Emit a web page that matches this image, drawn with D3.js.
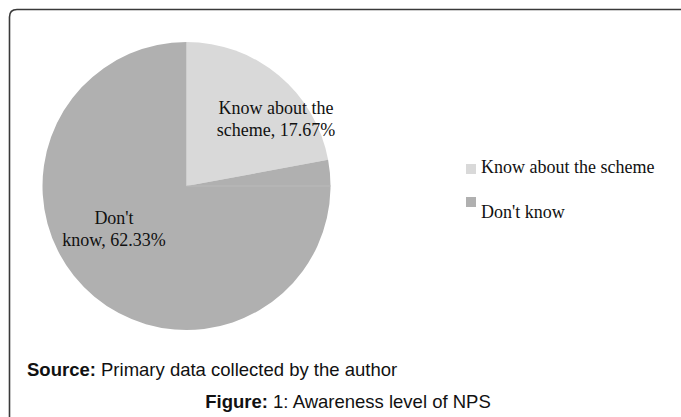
<!DOCTYPE html>
<html>
<head>
<meta charset="utf-8">
<script src="https://cdn.jsdelivr.net/npm/d3@7"></script>
<style>
  body { margin: 0; background: #fff; }
</style>
</head>
<body>
<div id="chart"></div>
<script>
// data
const categories = ["Know about the scheme", "Don't know"];
const values = [17.67, 62.33];
const labelLines = [["Know about the", "scheme, 17.67%"], ["Don't", "know, 62.33%"]];
const colors = ["#d9d9d9", "#b0b0b0"];

const width = 681, height = 417;
const cx = 186.5, cy = 186, radius = 144;

const svg = d3.select("#chart")
    .append("svg")
    .attr("width", width)
    .attr("height", height);

svg.append("rect").attr("width", width).attr("height", height).attr("fill", "#fff");

// frame: rounded top-left corner, open at right and bottom
svg.append("path")
    .attr("d", `M9.5,${height} L9.5,17 Q9.5,9.5 17,9.5 L${width},9.5`)
    .attr("fill", "none")
    .attr("stroke", "#3a3a3a")
    .attr("stroke-width", 1.6);

const color = d3.scaleOrdinal().domain(categories).range(colors);

const pie = d3.pie().sort(null).value(d => d.value);
const arcs = pie(categories.map((c, i) => ({ name: c, value: values[i], lines: labelLines[i] })));
const arc = d3.arc().innerRadius(0).outerRadius(radius);

const g = svg.append("g").attr("transform", `translate(${cx},${cy})`);

g.selectAll("path.slice")
    .data(arcs)
    .join("path")
    .attr("class", "slice")
    .attr("d", arc)
    .attr("fill", d => color(d.data.name));

// faint seam seen in the original at 3 o'clock
g.append("line")
    .attr("x1", 0).attr("y1", 0)
    .attr("x2", radius).attr("y2", 0)
    .attr("stroke", "#bababa")
    .attr("stroke-width", 1);

// slice labels
const labelPos = [[89.5, -72], [-72.5, 38]];
arcs.forEach((d, i) => {
    const t = g.append("text")
        .attr("text-anchor", "middle")
        .style("font-family", "'Liberation Serif', 'Times New Roman', serif")
        .style("font-size", "18px")
        .attr("fill", "#111");
    d.data.lines.forEach((line, j) => {
        t.append("tspan")
            .attr("x", labelPos[i][0])
            .attr("y", labelPos[i][1] + j * 21.5)
            .text(line);
    });
});

// legend
const legendRows = [
    { box: 164, text: 173 },
    { box: 197, text: 218 }
];
const legend = svg.append("g");
categories.forEach((c, i) => {
    legend.append("rect")
        .attr("x", 466).attr("y", legendRows[i].box)
        .attr("width", 10).attr("height", 10)
        .attr("fill", color(c));
    legend.append("text")
        .attr("x", 481).attr("y", legendRows[i].text)
        .style("font-family", "'Liberation Serif', 'Times New Roman', serif")
        .style("font-size", "18px")
        .attr("fill", "#111")
        .text(c);
});

// source and caption
const source = svg.append("text")
    .attr("x", 27).attr("y", 376)
    .style("font-family", "'Liberation Sans', Arial, sans-serif")
    .style("font-size", "18.5px")
    .attr("fill", "#111");
source.append("tspan").style("font-weight", "bold").text("Source:");
source.append("tspan").text(" Primary data collected by the author");

const caption = svg.append("text")
    .attr("x", 348).attr("y", 408)
    .attr("text-anchor", "middle")
    .style("font-family", "'Liberation Sans', Arial, sans-serif")
    .style("font-size", "18.5px")
    .attr("fill", "#111");
caption.append("tspan").style("font-weight", "bold").text("Figure:");
caption.append("tspan").text(" 1: Awareness level of NPS");
</script>
</body>
</html>
